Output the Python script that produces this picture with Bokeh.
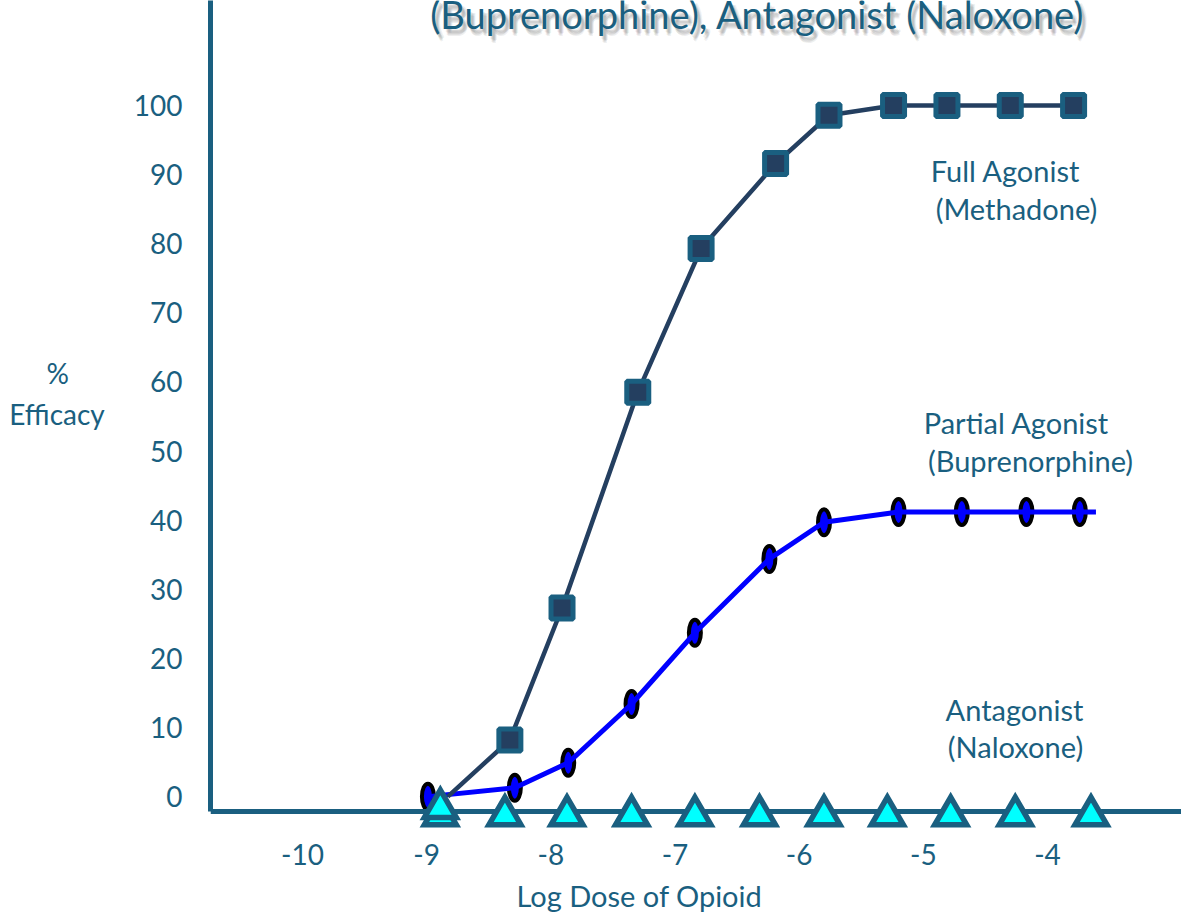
from bokeh.plotting import figure
from bokeh.models import Label, Range1d, ColumnDataSource, Title
from bokeh.transform import dodge
from bokeh.embed import file_html
from bokeh.resources import INLINE

# ---- data ----
methadone_dose = [-8.83, -8.33, -7.91, -7.30, -6.79, -6.19, -5.76, -5.24, -4.81, -4.30, -3.79]
methadone_eff = [0, 8.2, 27.3, 58.5, 79.3, 91.6, 98.6, 100, 100, 100, 100]

bup_dose = [-8.99, -8.29, -7.86, -7.35, -6.84, -6.24, -5.80, -5.20, -4.69, -4.17, -3.74, -3.61]
bup_eff = [0, 1.3, 4.9, 13.4, 23.7, 34.4, 39.7, 41.2, 41.2, 41.2, 41.2, 41.2]

nal_dose = [-8.89, -8.37, -7.87, -7.35, -6.84, -6.32, -5.80, -5.29, -4.78, -4.26, -3.65]
nal_eff = [0, 0, 0, 0, 0, 0, 0, 0, 0, 0, 0]

x_ticks = [-10, -9, -8, -7, -6, -5, -4]
y_ticks = [0, 10, 20, 30, 40, 50, 60, 70, 80, 90, 100]

title_text = "(Buprenorphine), Antagonist (Naloxone)"
x_label = "Log Dose of Opioid"
NB = "\u00a0"
y_label = "%" + NB * 5 + "\nEfficacy\n \n "

TEAL = "#1a5f80"
NAVY = "#243f60"
FONT = "Lato"
W, H = 1181, 919
Y_AXIS_AT = -2.17   # where the x axis crosses (just under 0)

p = figure(width=W, height=H, output_backend="svg", toolbar_location=None,
           x_range=Range1d(-10.741, -2.921), y_range=Range1d(-10.40, 115.2),
           min_border_left=210, min_border_right=0, min_border_top=0, min_border_bottom=50)
p.xgrid.visible = False
p.ygrid.visible = False
p.outline_line_color = None

for ax in (p.xaxis[0], p.yaxis[0]):
    ax.axis_line_color = TEAL
    ax.axis_line_width = 5
    ax.major_tick_line_color = None
    ax.minor_tick_line_color = None
    ax.major_label_text_font = FONT
    ax.major_label_text_font_size = "28px"
    ax.major_label_text_color = TEAL
p.xaxis.ticker = x_ticks
p.yaxis.ticker = y_ticks
p.xaxis.major_label_overrides = {t: str(t) for t in x_ticks}
p.xaxis.major_label_standoff = 26
p.xaxis.fixed_location = Y_AXIS_AT
p.yaxis.major_label_standoff = 22
p.yaxis.bounds = (Y_AXIS_AT, 115.2)

yax = p.yaxis[0]
yax.axis_label = y_label
yax.axis_label_orientation = "horizontal"
yax.axis_label_text_align = "center"
yax.axis_label_standoff = 26
yax.axis_label_text_font = FONT
yax.axis_label_text_font_size = "28px"
yax.axis_label_text_font_style = "normal"
yax.axis_label_text_color = TEAL

p.add_layout(Title(text=x_label, align="left", offset=306, text_font=FONT,
                   text_font_size="29px", text_font_style="normal", text_color=TEAL,
                   standoff=14),
             "below")

meth = ColumnDataSource(dict(x=methadone_dose, y=methadone_eff))
meth_m = ColumnDataSource(dict(x=methadone_dose[1:], y=methadone_eff[1:]))
bup = ColumnDataSource(dict(x=bup_dose, y=bup_eff))
bup_m = ColumnDataSource(dict(x=bup_dose[:-1], y=bup_eff[:-1]))
nal = ColumnDataSource(dict(x=nal_dose, y=nal_eff))
nal_first = ColumnDataSource(dict(x=nal_dose[:1], y=nal_eff[:1]))

# partial agonist: ovals under the blue line
p.ellipse(x="x", y="y", source=bup_m, width=12, height=26, width_units="screen",
          height_units="screen", fill_color="#0000ff", line_color="black", line_width=4)
p.line(x="x", y="y", source=bup, line_color="#0000ff", line_width=5)

# full agonist
p.line(x="x", y="y", source=meth, line_color=NAVY, line_width=4.5)
p.scatter(x="x", y="y", source=meth_m, marker="square", size=22, fill_color=NAVY,
          line_color=TEAL, line_width=5)

# antagonist (drawn over the axis line)
p.scatter(x="x", y=dodge("y", -2.75, range=p.y_range), source=nal, marker="triangle",
          size=32, fill_color="#00ffff", line_color=TEAL, line_width=5.5, line_join="miter",
          level="overlay")
p.scatter(x="x", y=dodge("y", -1.7, range=p.y_range), source=nal_first, marker="triangle",
          size=32, fill_color="#00ffff", line_color=TEAL, line_width=5.5, line_join="miter",
          level="overlay")

def lab(x, y, text, size="29px", color=TEAL, alpha=1.0, xo=0, yo=0, baseline="middle"):
    p.add_layout(Label(x=x, y=y, text=text, text_font=FONT, text_font_size=size,
                       text_color=color, text_alpha=alpha, text_align="center",
                       text_baseline=baseline, x_offset=xo, y_offset=yo))

# title (cut at the top) with a soft shadow
for xo, yo in [(2, -3), (3, -4), (4, -5), (3, -6), (5, -4), (4, -7)]:
    lab(-6.336, 113.3, title_text, size="38px", color="#808080", alpha=0.12, xo=xo, yo=yo,
        baseline="alphabetic")
lab(-6.336, 113.3, title_text, size="38px", baseline="alphabetic")

lab(-4.338, 90.6, "Full Agonist")
lab(-4.25, 85.1, "(Methadone)")
lab(-4.25, 54.2, "Partial Agonist")
lab(-4.137, 48.7, "(Buprenorphine)")
lab(-4.266, 12.6, "Antagonist")
lab(-4.258, 7.2, "(Naloxone)")

open("out.html", "w").write(file_html(p, INLINE))
